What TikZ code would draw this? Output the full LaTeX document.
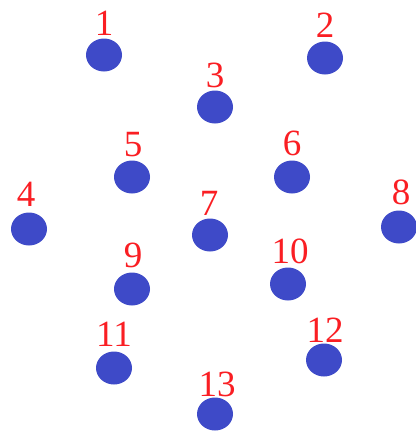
\documentclass[tikz,border=0pt]{standalone}
\usepackage{fontspec}
\setmainfont{Liberation Serif}
\usetikzlibrary{shapes.geometric}
\definecolor{dotblue}{RGB}{62,74,200}
\definecolor{numred}{RGB}{250,30,35}
\begin{document}
\begin{tikzpicture}[x=1pt,y=-1pt,
  dot/.style={fill=dotblue,draw=none,ellipse,minimum width=36pt,minimum height=33pt,inner sep=0pt},
  num/.style={text=numred,anchor=base,inner sep=0pt,font=\fontsize{37}{40}\selectfont}]
\useasboundingbox (0,0) rectangle (415,431);
\fill[white] (0,0) rectangle (415,431);
\foreach \n/\x/\y/\lx/\ly in {
 1/104/55/104/35,
 2/325/58/325/37,
 3/215/107/215/87,
 4/29/229/26/206,
 5/132/177/133/156,
 6/292/177/292/155,
 7/210/235/209/215,
 8/399/227/401/204,
 9/132/289/133/267,
 10/288/284/290/263,
 11/114/368/114/346,
 12/324/360/325/342,
 13/215/414/217/396}{
  \node[dot] (d\n) at (\x,\y) {};
  \node[num] (l\n) at (\lx,\ly) {\n};
}
\end{tikzpicture}
\end{document}
